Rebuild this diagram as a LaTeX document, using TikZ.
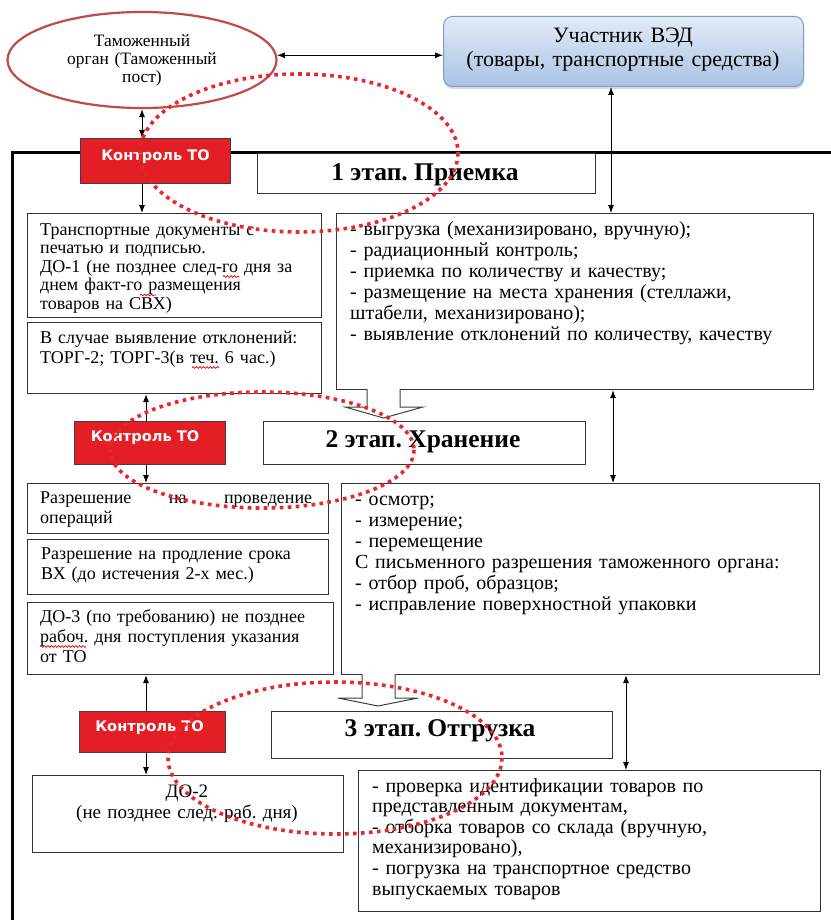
\documentclass[tikz,border=0pt]{standalone}
\usepackage{fontspec}
\setmainfont{Liberation Serif}
\newfontfamily\ksans{DejaVu Sans}
\usetikzlibrary{arrows.meta,shapes.geometric,shadows,calc,decorations.pathmorphing}
\definecolor{kred}{HTML}{E31E24}
\definecolor{dotred}{HTML}{E8262B}
\definecolor{ellred}{HTML}{BE4B48}
\definecolor{boxgray}{HTML}{333333}
\definecolor{uchtop}{HTML}{E2EBF6}
\definecolor{uchbot}{HTML}{A9C3E4}
\definecolor{uchdraw}{HTML}{7F9CC5}
\frenchspacing
\begin{document}
\frenchspacing
\begin{tikzpicture}[x=1pt,y=-1pt,
  box/.style={draw=boxgray, line width=1.1pt, fill=white, rectangle, inner sep=0pt, anchor=north west},
  kbox/.style={draw=black!75, line width=1pt, fill=kred, rectangle, inner sep=0pt, anchor=north west},
  ktext/.style={text=white, font=\ksans\bfseries\fontsize{14.6}{16}\selectfont, inner sep=0pt},
  ltxt/.style={font=\fontsize{18}{20.3}\selectfont, align=left, inner sep=0pt, anchor=base west},
  rtxt/.style={font=\fontsize{20}{21}\selectfont, align=left, inner sep=0pt, anchor=base west},
  headtxt/.style={font=\bfseries\fontsize{25.5}{27}\selectfont, inner sep=0pt, anchor=base},
  arr/.style={-{Latex[length=8pt,width=6pt]}, line width=0.9pt},
  darr/.style={{Latex[length=8pt,width=6pt]}-{Latex[length=8pt,width=6pt]}, line width=0.9pt},
  blockar/.style={draw=black!75, line width=1pt, fill=white},
  reddots/.style={draw=dotred, line width=3.6pt, dash pattern=on 3.6pt off 4.4pt},
  spell/.style={draw=red!85!black, line width=0.7pt, decorate, decoration={snake, segment length=3.5pt, amplitude=0.9pt}},
]
\useasboundingbox (0,0) rectangle (830,920);
\fill[white] (0,0) rectangle (830,920);

% frame
\draw[line width=3pt] (12,925) -- (12,153) -- (835,153);

% top nodes
\node[draw=ellred, line width=2.2pt, fill=white, ellipse, minimum width=269pt, minimum height=96pt, inner sep=0pt] (ell) at (142,60) {};
\node[font=\fontsize{17.4}{18}\selectfont, text width=230pt, align=center, inner sep=0pt, anchor=base] (ellt) at (142,47) {Таможенный\\орган (Таможенный\\пост)};

\node[draw=uchdraw, line width=1pt, rounded corners=9pt, top color=uchtop, bottom color=uchbot,
  drop shadow={shadow xshift=0.5pt, shadow yshift=-2.5pt, opacity=0.25, fill=black!60},
  minimum width=360pt, minimum height=70pt, inner sep=0pt, anchor=north west] (uch) at (443,16) {};
\node[font=\fontsize{22}{24}\selectfont, text width=350pt, align=center, inner sep=0pt, anchor=base] (ucht) at (623,43) {Участник ВЭД\\(товары, транспортные средства)};

% stage 1
\node[box, minimum width=338pt, minimum height=40pt] (st1) at (257,153) {};
\node[headtxt] at (425,180) {1 этап. Приемка};
\node[kbox, minimum width=150pt, minimum height=45pt] (k1) at (80,138) {};
\node[ktext] at ($(k1.center)+(0,-4)$) {Контроль ТО};

\node[box, minimum width=294pt, minimum height=104pt] (tr) at (27,213) {};
\node[ltxt, text width=285pt, font=\fontsize{18}{18.6}\selectfont] at (40,235) {Транспортные документы с\\печатью и подписью.\\ДО-1 (не позднее след-го дня за\\днем факт-го размещения\\товаров на СВХ)};
\node[box, minimum width=294pt, minimum height=71pt] (torg) at (27,322) {};
\node[ltxt, text width=285pt] at (40,343) {В случае выявление отклонений:\\ТОРГ-2; ТОРГ-3(в теч. 6 час.)};

\node[box, minimum width=477pt, minimum height=176pt] (r1) at (336,213) {};
\node[rtxt, text width=460pt] at (350,235) {- выгрузка (механизировано, вручную);\\- радиационный контроль;\\- приемка по количеству и качеству;\\- размещение на места хранения (стеллажи,\\штабели, механизировано);\\- выявление отклонений по количеству, качеству};

% stage 2
\draw[blockar] (367,389) -- (367,407) -- (345,407) -- (383.5,418) -- (423,407) -- (400,407) -- (400,389);
\node[box, minimum width=322pt, minimum height=43pt] (st2) at (263,421) {};
\node[headtxt] at (423,447) {2 этап. Хранение};
\node[kbox, minimum width=151pt, minimum height=43pt] (k2) at (74,421) {};
\node[ktext] at ($(k2.center)+(-5,-5)$) {Контроль ТО};

\node[box, minimum width=301pt, minimum height=50pt] (razr1) at (27,483) {};
\node[ltxt, text width=285pt] at (40,503) {\hbox to 272pt{Разрешение\hfill на\hfill проведение}\\операций};
\node[box, minimum width=301pt, minimum height=55pt] (razr2) at (27,539) {};
\node[ltxt, text width=285pt] at (41,559) {Разрешение на продление срока\\ВХ (до истечения 2-х мес.)};
\node[box, minimum width=306pt, minimum height=72pt] (do3) at (27,602) {};
\node[ltxt, text width=290pt] at (40,622) {ДО-3 (по требованию) не позднее\\рабоч. дня поступления указания\\от ТО};

\node[box, minimum width=478pt, minimum height=191pt] (r2) at (341,483) {};
\node[rtxt, text width=460pt] at (355,505) {- осмотр;\\- измерение;\\- перемещение\\С письменного разрешения таможенного органа:\\- отбор проб, образцов;\\- исправление поверхностной упаковки};

% stage 3
\draw[blockar] (362,674) -- (362,698) -- (338,698) -- (378,706) -- (418,698) -- (395,698) -- (395,674);
\node[box, minimum width=341pt, minimum height=47pt] (st3) at (271,711) {};
\node[headtxt] at (440,736) {3 этап. Отгрузка};
\node[kbox, minimum width=146pt, minimum height=41pt] (k3) at (79,711) {};
\node[ktext] at ($(k3.center)+(-3,-4)$) {Контроль ТО};

\node[box, minimum width=311pt, minimum height=77pt] (do2) at (32,775) {};
\node[font=\fontsize{19}{21}\selectfont, text width=300pt, align=center, inner sep=0pt, anchor=base] at (187,797) {ДО-2\\(не позднее след. раб. дня)};

\node[box, minimum width=462pt, minimum height=141pt] (r3) at (358,770) {};
\node[rtxt, text width=440pt, font=\fontsize{20}{20.6}\selectfont] at (372,792) {- проверка идентификации товаров по\\представленным документам,\\- отборка товаров со склада (вручную,\\механизировано),\\- погрузка на транспортное средство\\выпускаемых товаров};

% spell-check underlines
\draw[spell] (223,276.5) -- (239,276.5);
\draw[spell] (140,295) -- (156,295);
\draw[spell] (192,367.5) -- (219,367.5);
\draw[spell] (40,646.5) -- (86,646.5);

% connectors
\draw[darr] (ell.2) -- (uch.west |- ell.2);
\draw[darr] (ell.south) -- (ell.south |- k1.north);
\draw[arr] (k1.south -| ell.south) -- (tr.north -| ell.south);
\coordinate (vx0) at (611,0);
\draw[darr] (uch.south -| vx0) -- (r1.north -| vx0);
\coordinate (vx1) at (146,0);
\draw[arr] (k2.north -| vx1) -- (torg.south -| vx1);
\draw[arr] (k2.south -| vx1) -- (razr1.north -| vx1);
\coordinate (vx2) at (613,0);
\draw[darr] (r1.south -| vx2) -- (r2.north -| vx2);
\draw[arr] (k3.north -| vx1) -- (do3.south -| vx1);
\draw[arr] (k3.south -| vx1) -- (do2.north -| vx1);
\coordinate (vx3) at (626,0);
\draw[darr] (r2.south -| vx3) -- (r3.north -| vx3);

% red dotted ellipses
\draw[reddots] (299,153) ellipse [x radius=159, y radius=79];
\draw[reddots] (262,450) ellipse [x radius=152, y radius=58];
\draw[reddots] (335,758) ellipse [x radius=167, y radius=76];
\end{tikzpicture}
\end{document}
